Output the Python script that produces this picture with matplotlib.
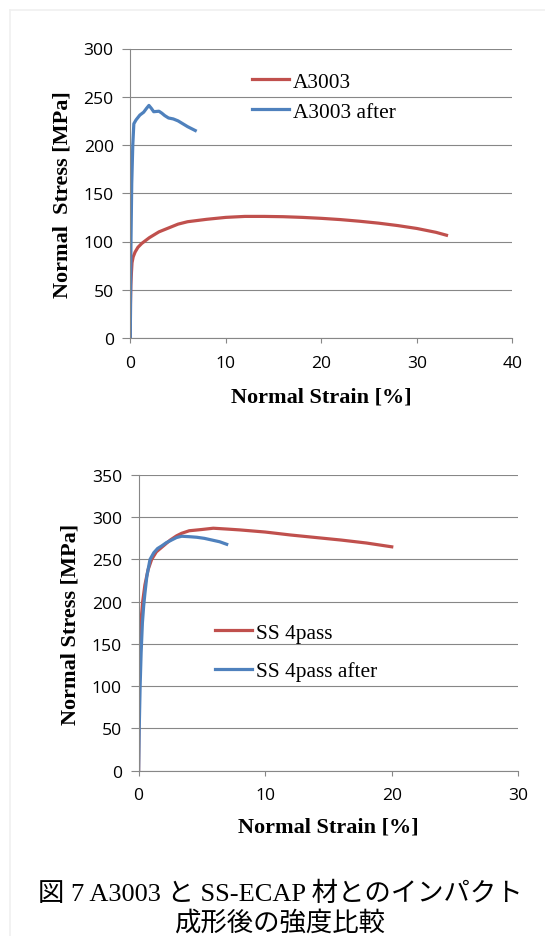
import matplotlib
matplotlib.use("Agg")
import matplotlib.pyplot as plt
from matplotlib.lines import Line2D

# top chart: A3003
a3003_strain = [0, 0.02, 0.06, 0.12, 0.18, 0.3, 0.5, 0.8, 1.2, 1.6, 2.0, 3.0, 4.0, 5.0, 6.0,
                8.0, 10.0, 12.0, 14.0, 16.0, 18.0, 20.0, 22.0, 24.0, 26.0, 28.0, 30.0, 32.0, 33.1]
a3003_stress = [0, 35, 55, 68, 78, 84, 89, 94, 98, 101, 104, 110, 114, 118, 120.5,
                123, 125, 126, 126, 125.7, 125, 124, 122.7, 121, 119, 116.5, 113.5, 109.5, 106.5]
a3003_after_strain = [0, 0.03, 0.07, 0.15, 0.26, 0.37, 0.6, 1.0, 1.4, 1.7, 1.95, 2.2, 2.45,
                      3.0, 3.3, 3.6, 4.0, 4.5, 5.0, 5.5, 6.0, 6.5, 6.8]
a3003_after_stress = [0, 50, 100, 160, 200, 222, 226, 231, 234, 238, 241, 238, 234.5,
                      235, 233, 230.5, 228, 227, 225, 222, 219, 216.5, 215]

# bottom chart: SS 4pass
ss_strain = [0, 0.02, 0.05, 0.1, 0.18, 0.32, 0.5, 0.75, 1.03, 1.4, 1.95, 2.5, 3.0, 3.4, 4.0,
             5.0, 5.9, 7.0, 8.0, 10.0, 12.0, 14.0, 16.0, 18.0, 20.0]
ss_stress = [0, 50, 100, 140, 175, 200, 220, 238, 250, 259, 266, 273, 278, 281, 284,
             285.5, 287, 286, 285, 282.5, 279, 276, 273, 269.5, 265]
ss_after_strain = [0, 0.05, 0.12, 0.2, 0.3, 0.4, 0.5, 0.65, 0.9, 1.2, 1.5, 1.82, 2.2, 2.6,
                   3.0, 3.4, 4.0, 4.6, 5.2, 5.8, 6.4, 6.96]
ss_after_stress = [0, 50, 100, 140, 175, 195, 210, 230, 250, 258, 263, 266, 270, 273,
                   276, 277.5, 277, 276.3, 275, 273, 271, 268]

RED = "#c0504d"
BLUE = "#4f81bd"
GRID = "#878787"
W, H = 545, 937

fig = plt.figure(figsize=(W / 100, H / 100), dpi=100)

# faint page border
fig.add_artist(Line2D([10 / W, 10 / W], [0, 1 - 11 / H], color="#f0f0f0", lw=1.2))
fig.add_artist(Line2D([10 / W, 1], [1 - 11 / H, 1 - 11 / H], color="#f0f0f0", lw=1.2))


def style(ax, xmax, ymax, ystep):
    ax.set_xlim(0, xmax)
    ax.set_ylim(0, ymax)
    ax.set_xticks(range(0, xmax + 1, 10))
    ax.set_yticks(range(0, ymax + 1, ystep))
    ax.yaxis.grid(True, color=GRID, lw=0.8)
    ax.set_axisbelow(True)
    for s in ["top", "right"]:
        ax.spines[s].set_visible(False)
    for s in ["left", "bottom"]:
        ax.spines[s].set_color(GRID)
        ax.spines[s].set_linewidth(0.8)
    ax.tick_params(axis="y", length=6, width=0.8, color=GRID, pad=6, labelsize=12.6)
    ax.tick_params(axis="x", length=3.5, width=0.8, color=GRID, pad=8.5, labelsize=12.6)
    for t in ax.get_xticklabels() + ax.get_yticklabels():
        t.set_fontfamily("Open Sans")


ax1 = fig.add_axes([130.3 / W, 1 - 339 / H, (512.4 - 130.3) / W, (339 - 49.5) / H])
ax1.plot(a3003_strain, a3003_stress, color=RED, lw=2.3, label="A3003")
ax1.plot(a3003_after_strain, a3003_after_stress, color=BLUE, lw=2.3, label="A3003 after")
style(ax1, 40, 300, 50)
ax1.set_xlabel("Normal Strain [%]", family="Liberation Serif", weight="bold", fontsize=16, va="center")
ax1.set_ylabel("Normal  Stress [MPa]", family="Liberation Serif", weight="bold", fontsize=16, va="center")
ax1.xaxis.set_label_coords(321 / W, 1 - 397.5 / H, transform=fig.transFigure)
ax1.yaxis.set_label_coords(62 / W, 1 - 194.5 / H, transform=fig.transFigure)
ax1.legend(loc="upper left", bbox_to_anchor=(252 / W, 1 - 72.7 / H), bbox_transform=fig.transFigure,
           frameon=False, borderpad=0, borderaxespad=0, handlelength=1.73, handletextpad=0.2,
           labelspacing=0.48, prop={"family": "Liberation Serif", "size": 15.4})

ax2 = fig.add_axes([138.6 / W, 1 - 771.7 / H, (518.3 - 138.6) / W, (771.7 - 476) / H])
ax2.plot(ss_strain, ss_stress, color=RED, lw=2.3, label="SS 4pass")
ax2.plot(ss_after_strain, ss_after_stress, color=BLUE, lw=2.3, label="SS 4pass after")
style(ax2, 30, 350, 50)
ax2.set_xlabel("Normal Strain [%]", family="Liberation Serif", weight="bold", fontsize=16, va="center")
ax2.set_ylabel("Normal Stress [MPa]", family="Liberation Serif", weight="bold", fontsize=16, va="center")
ax2.xaxis.set_label_coords(328 / W, 1 - 828 / H, transform=fig.transFigure)
ax2.yaxis.set_label_coords(70.7 / W, 1 - 624 / H, transform=fig.transFigure)
ax2.legend(loc="upper left", bbox_to_anchor=(214.5 / W, 1 - 624 / H), bbox_transform=fig.transFigure,
           frameon=False, borderpad=0, borderaxespad=0, handlelength=1.73, handletextpad=0.2,
           labelspacing=0.85, prop={"family": "Liberation Serif", "size": 15.4})

cap_font = ["Liberation Serif", "Noto Sans CJK JP"]
fig.text(280 / W, 1 - 894 / H, "図 7 A3003 と SS-ECAP 材とのインパクト", ha="center", va="center",
         fontsize=19, family=cap_font)
fig.text(280 / W, 1 - 923 / H, "成形後の強度比較", ha="center", va="center",
         fontsize=19, family=cap_font)

fig.savefig("out.png", dpi=100)
